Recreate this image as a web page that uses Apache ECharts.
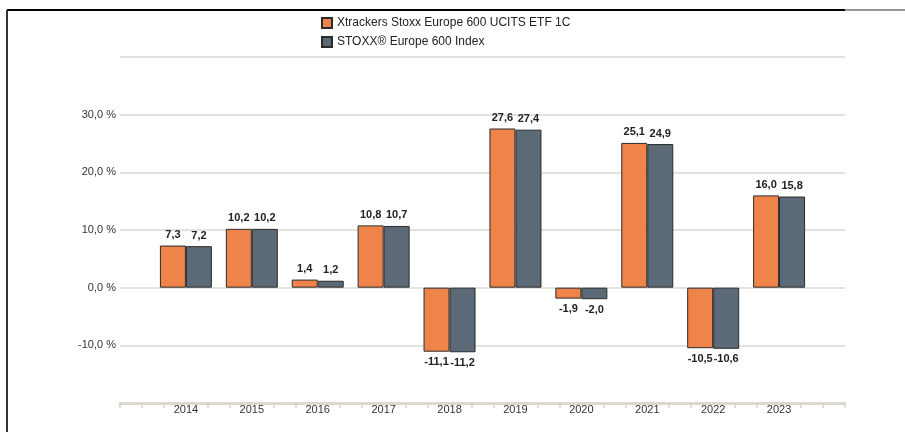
<!DOCTYPE html>
<html>
<head>
<meta charset="utf-8">
<script src="https://cdn.jsdelivr.net/npm/echarts@6/dist/echarts.min.js"></script>
<style>
  html, body { margin: 0; padding: 0; background: #fff; }
  #chart { width: 905px; height: 432px; }
</style>
</head>
<body>
<div id="chart"></div>
<script>
// 年別パフォーマンス (%)
const years = ['2014', '2015', '2016', '2017', '2018', '2019', '2020', '2021', '2022', '2023']
const fundName = 'Xtrackers Stoxx Europe 600 UCITS ETF 1C'
const indexName = 'STOXX® Europe 600 Index'
const fundValues = [7.3, 10.2, 1.4, 10.8, -11.1, 27.6, -1.9, 25.1, -10.5, 16.0]
const indexValues = [7.2, 10.2, 1.2, 10.7, -11.2, 27.4, -2.0, 24.9, -10.6, 15.8]

// 両端に空のカテゴリを置く
const categories = [''].concat(years, [''])

function toData(arr) {
  const list = arr.map((v) => ({
    value: v,
    label: { position: v < 0 ? 'bottom' : 'top' }
  }))
  return [null].concat(list, [null])
}

// 目盛り: カテゴリ中心以外の1/3刻み
const tickValues = []
for (let i = 0; i <= 33; i++) {
  if (i === 0 || i === 33 || i % 3 !== 0) tickValues.push(i)
}

const fmt = (v) => v.toFixed(1).replace('.', ',')

const chart = echarts.init(document.getElementById('chart'))
const option = {
  animation: false,
  textStyle: { fontFamily: 'Liberation Sans, Arial, sans-serif' },
  graphic: [
    { type: 'line', shape: { x1: 7, y1: 10, x2: 845, y2: 10 }, style: { stroke: '#000', lineWidth: 2 } },
    { type: 'line', shape: { x1: 845, y1: 10, x2: 905, y2: 10 }, style: { stroke: '#999', lineWidth: 2 } },
    { type: 'line', shape: { x1: 7, y1: 10, x2: 7, y2: 432 }, style: { stroke: '#333', lineWidth: 2 } }
  ],
  legend: {
    orient: 'vertical',
    left: 316,
    top: 12,
    itemWidth: 10,
    itemHeight: 10,
    itemGap: 7,
    icon: 'rect',
    textStyle: { fontSize: 12, color: '#222' },
    data: [fundName, indexName]
  },
  grid: { left: 120, right: 60, top: 57, bottom: 29, containLabel: false },
  xAxis: [
    {
      type: 'category',
      data: categories,
      boundaryGap: false,
      axisLine: { show: true, onZero: false, lineStyle: { color: '#dcd8cf', width: 3 } },
      axisTick: { show: false },
      axisLabel: { color: '#333', fontSize: 11, margin: 1, interval: 0 },
      splitLine: { show: false }
    },
    {
      type: 'value',
      min: 0,
      max: 33,
      position: 'bottom',
      axisLine: { show: false, onZero: false },
      axisTick: {
        show: true,
        length: 5,
        customValues: tickValues,
        lineStyle: { color: '#d8d3c9', width: 1.5 }
      },
      axisLabel: { show: false },
      splitLine: { show: false }
    }
  ],
  yAxis: {
    type: 'value',
    min: -20,
    max: 40,
    interval: 10,
    axisLine: { show: false },
    axisTick: { show: false },
    axisLabel: {
      color: '#333',
      fontSize: 11,
      margin: 4,
      formatter: (v) => (v === 40 || v === -20 ? '' : fmt(v) + ' %')
    },
    splitLine: { lineStyle: { color: '#e4e2dc', width: 2 } }
  },
  series: [
    {
      name: fundName,
      type: 'bar',
      data: toData(fundValues),
      barWidth: 26,
      barGap: '0%',
      itemStyle: { color: '#ee844a', borderColor: '#2b2b2b', borderWidth: 1 },
      label: { show: true, distance: 5, fontSize: 11, fontWeight: 'bold', color: '#222', formatter: (p) => fmt(p.value) }
    },
    {
      name: indexName,
      type: 'bar',
      data: toData(indexValues),
      barWidth: 26,
      barGap: '0%',
      itemStyle: { color: '#5b6a76', borderColor: '#2b2b2b', borderWidth: 1 },
      label: { show: true, distance: 5, fontSize: 11, fontWeight: 'bold', color: '#222', formatter: (p) => fmt(p.value) }
    }
  ]
}
chart.setOption(option)
</script>
</body>
</html>
